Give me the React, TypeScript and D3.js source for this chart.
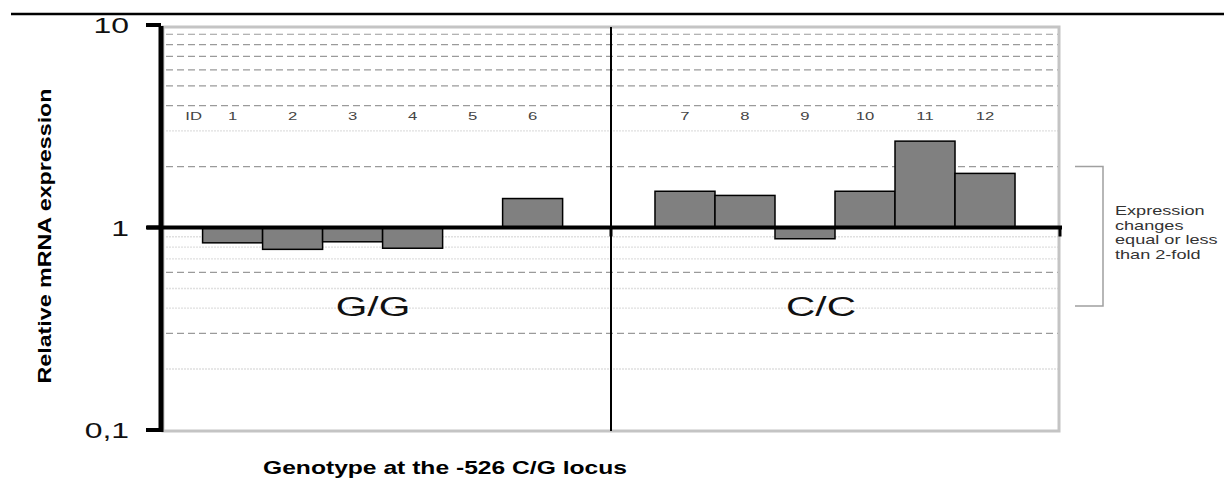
import React from "react";
import * as d3 from "d3";

// Genotype groups and the sample IDs within each one
const genotypes = ["G/G", "C/C"];
const ggIds = ["1", "2", "3", "4", "5", "6"];
const ccIds = ["7", "8", "9", "10", "11", "12"];

// Relative mRNA expression per sample (fold change, log axis centred on 1)
const ggValues = [0.84, 0.78, 0.85, 0.79, 1.0, 1.39];
const ccValues = [1.51, 1.44, 0.88, 1.51, 2.67, 1.85];

// Axis ticks and reference lines
const yTicks = [0.1, 1, 10];
const yTickLabels = ["0,1", "1", "10"];
const dashedGrid = [9, 8, 7, 6, 5, 4, 2, 0.6, 0.3];
const dottedGrid = [3, 0.9, 0.8, 0.7, 0.5, 0.4, 0.2];

// Bracket marking the "2-fold" band and its note
const bracketSpan = [2, 0.41];
const noteLines = ["Expression", "changes", "equal or less", "than 2-fold"];

const W = 1224;
const H = 485;
const FONT = "'Liberation Sans', Arial, Helvetica, sans-serif";
const SX = 1.45; // horizontal stretch of the lettering

const plot = { left: 163, right: 1059, top: 27, bottom: 431 };

const y = d3.scaleLog().domain([0.1, 10]).range([plot.bottom - 1, plot.top - 2]);
const xGroup = d3.scaleBand().domain(genotypes).range([plot.left, plot.right]).padding(0);

function StretchText({ x, y: ty, size, anchor = "start", weight = "normal", fill = "#000", children }: any) {
  return (
    <text
      transform={`translate(${x},${ty}) scale(${SX},1)`}
      fontSize={size}
      fontFamily={FONT}
      fontWeight={weight}
      textAnchor={anchor}
      fill={fill}
    >
      {children}
    </text>
  );
}

export default function App() {
  const groupData = [
    { genotype: genotypes[0], ids: ggIds, values: ggValues, align: 0.45 },
    { genotype: genotypes[1], ids: ccIds, values: ccValues, align: 0.5 },
  ];

  const y1 = y(1);

  return (
    <svg
      width={W}
      height={H}
      viewBox={`0 0 ${W} ${H}`}
      style={{ position: "absolute", left: 0, top: 0, background: "#fff" }}
    >
      {/* rule across the top of the figure */}
      <line x1={11} x2={W} y1={14} y2={14} stroke="#000" strokeWidth={2.5} />

      {/* light dotted gridlines */}
      {dottedGrid.map((v) => (
        <line
          key={"dot" + v}
          x1={plot.left + 3}
          x2={plot.right}
          y1={y(v)}
          y2={y(v)}
          stroke="#e0e0e0"
          strokeWidth={1.4}
          strokeDasharray="2,1"
        />
      ))}
      {/* dashed gridlines */}
      {dashedGrid.map((v) => (
        <line
          key={"dash" + v}
          x1={plot.left + 3}
          x2={plot.right}
          y1={y(v)}
          y2={y(v)}
          stroke="#9a9a9a"
          strokeWidth={1.2}
          strokeDasharray="7,4"
        />
      ))}

      {/* plot frame */}
      <rect
        x={plot.left}
        y={plot.top}
        width={plot.right - plot.left}
        height={plot.bottom - plot.top}
        fill="none"
        stroke="#c4c4c4"
        strokeWidth={3}
      />

      {/* bars and sample IDs */}
      {groupData.map((g) => {
        const inner = d3
          .scaleBand()
          .domain(g.ids)
          .range([xGroup(g.genotype)!, xGroup(g.genotype)! + xGroup.bandwidth()])
          .paddingInner(0)
          .paddingOuter(0.733)
          .align(g.align);
        return (
          <g key={g.genotype}>
            {g.ids.map((id, i) => {
              const v = g.values[i];
              const yv = y(v);
              return (
                <rect
                  key={id}
                  x={inner(id)}
                  y={Math.min(yv, y1)}
                  width={inner.bandwidth()}
                  height={Math.abs(yv - y1)}
                  fill="#808080"
                  stroke="#000"
                  strokeWidth={1.5}
                />
              );
            })}
            {g.genotype === genotypes[0] && (
              <StretchText x={inner(g.ids[0])! + inner.bandwidth() / 2 - 0.65 * inner.step()} y={120} size={11.5} anchor="middle" fill="#444">
                ID
              </StretchText>
            )}
            {g.ids.map((id) => (
              <StretchText key={"l" + id} x={inner(id)! + inner.bandwidth() / 2} y={120} size={11.5} anchor="middle" fill="#444">
                {id}
              </StretchText>
            ))}
            <StretchText
              x={xGroup(g.genotype)! + xGroup.bandwidth() / 2 - 14}
              y={316}
              size={28}
              anchor="middle"
              fill="#111"
            >
              {g.genotype}
            </StretchText>
          </g>
        );
      })}

      {/* divider between genotype groups */}
      <line
        x1={xGroup(genotypes[1])}
        x2={xGroup(genotypes[1])}
        y1={plot.top}
        y2={plot.bottom}
        stroke="#000"
        strokeWidth={2}
      />

      {/* category axis at 1 with its tick marks */}
      <line x1={plot.left - 16} x2={plot.right + 3} y1={y1} y2={y1} stroke="#000" strokeWidth={4} />
      {[xGroup(genotypes[1])!, plot.right + 1].map((tx, i) => (
        <line key={"xt" + i} x1={tx} x2={tx} y1={y1} y2={y1 + 9} stroke="#000" strokeWidth={3} />
      ))}

      {/* value axis */}
      <line x1={plot.left - 2} x2={plot.left - 2} y1={plot.top - 1} y2={plot.bottom + 1} stroke="#000" strokeWidth={5} />
      {yTicks.map((t, i) => (
        <g key={"yt" + t}>
          <line x1={plot.left - 17} x2={plot.left - 2} y1={y(t)} y2={y(t)} stroke="#000" strokeWidth={4} />
          <StretchText x={129} y={y(t) + 8} size={22} anchor="end" fill="#111">
            {yTickLabels[i]}
          </StretchText>
        </g>
      ))}

      {/* axis titles */}
      <text
        transform={`translate(51,236) rotate(-90)`}
        fontSize={19}
        fontWeight="bold"
        fontFamily={FONT}
        textAnchor="middle"
        textLength={295}
        lengthAdjust="spacingAndGlyphs"
      >
        Relative mRNA expression
      </text>
      <text
        x={445}
        y={474}
        fontSize={19}
        fontWeight="bold"
        fontFamily={FONT}
        textAnchor="middle"
        textLength={364}
        lengthAdjust="spacingAndGlyphs"
      >
        Genotype at the -526 C/G locus
      </text>

      {/* bracket with note */}
      {(() => {
        const bx = 1103;
        const bt = y(bracketSpan[0]);
        const bb = y(bracketSpan[1]);
        return (
          <path
            d={`M1075,${bt} H${bx} V${bb} H1075`}
            fill="none"
            stroke="#a0a0a0"
            strokeWidth={1.5}
          />
        );
      })()}
      {noteLines.map((line, i) => (
        <StretchText key={line} x={1115} y={215 + i * 14.5} size={12.5} fill="#333">
          {line}
        </StretchText>
      ))}
    </svg>
  );
}
